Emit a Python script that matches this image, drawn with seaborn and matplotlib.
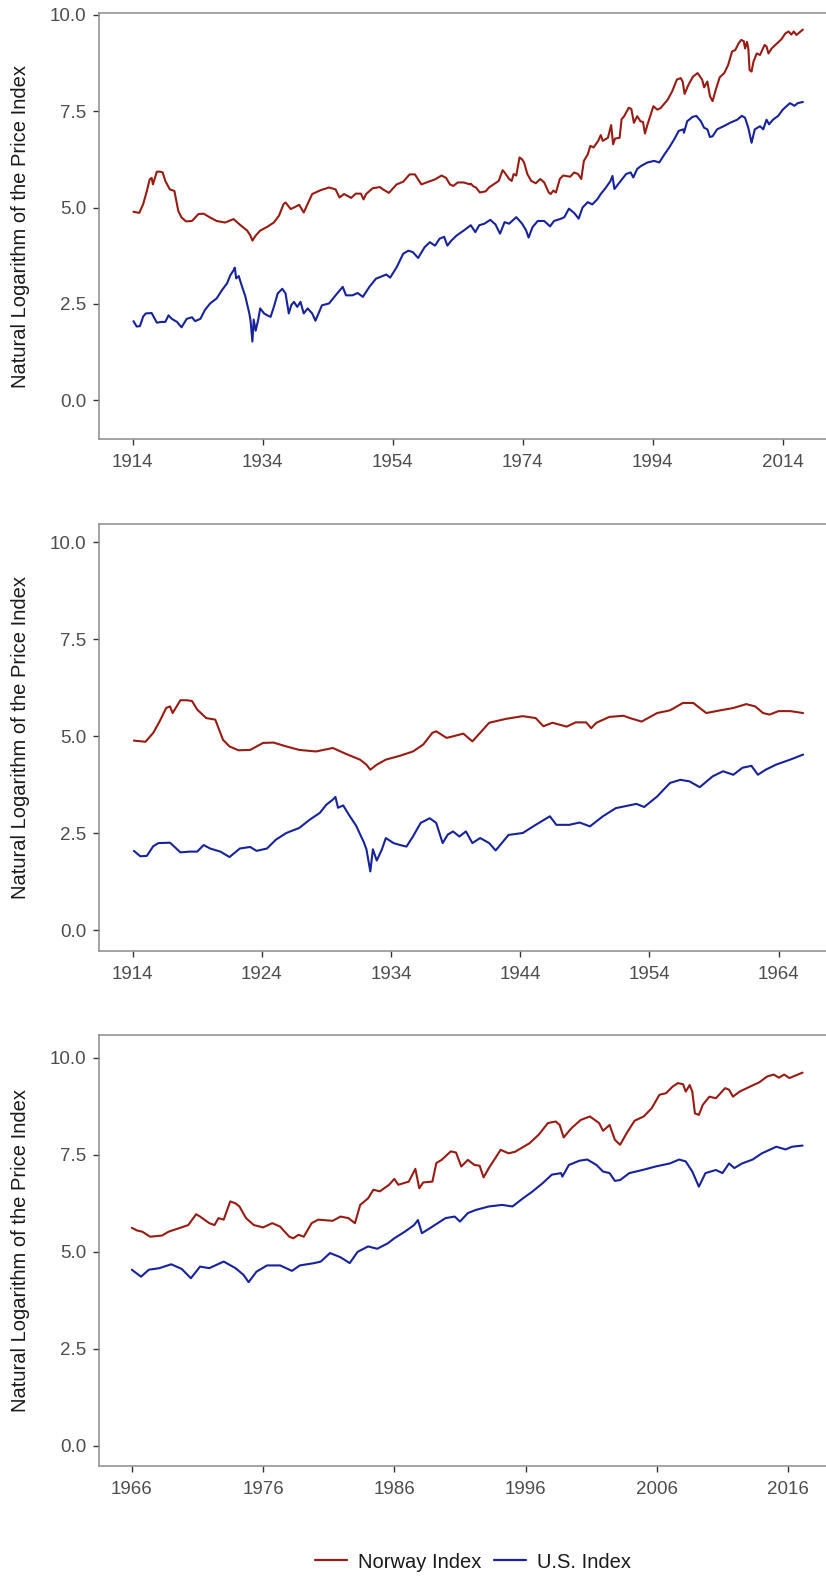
import numpy as np
import pandas as pd
import matplotlib
matplotlib.use('Agg')
import matplotlib.pyplot as plt
import seaborn as sns
from matplotlib.lines import Line2D

# values (log of price index)
nor_year = [1914.1, 1915.0, 1915.6, 1916.1, 1916.6, 1916.9, 1917.1, 1917.7, 1918.2, 1918.6,
            1919.0, 1919.7, 1920.4, 1921.0, 1921.5, 1922.2, 1923.1, 1924.1, 1924.9, 1925.9,
            1926.9, 1928.2, 1929.5, 1930.5, 1931.6, 1932.1, 1932.4, 1932.9, 1933.6, 1934.7,
            1935.7, 1936.5, 1937.2, 1937.5, 1938.3, 1938.8, 1939.6, 1940.3, 1940.9, 1941.6,
            1942.9, 1944.2, 1945.2, 1945.8, 1946.5, 1947.6, 1948.3, 1949.1, 1949.5, 1949.9,
            1950.9, 1952.0, 1952.5, 1953.4, 1954.6, 1955.6, 1956.6, 1957.4, 1958.4, 1959.5,
            1960.5, 1961.5, 1962.2, 1962.8, 1963.3, 1964.0, 1964.9, 1965.9,
            1966.0, 1966.4, 1966.8, 1967.4, 1968.3, 1968.8, 1969.6, 1970.3, 1970.9, 1971.2, 1971.9,
            1972.3, 1972.6, 1973.0, 1973.5, 1973.9, 1974.2, 1974.7, 1975.3, 1976.0, 1976.7,
            1977.3, 1978.0, 1978.3, 1978.7, 1979.1, 1979.7, 1980.2, 1981.3, 1981.9, 1982.5,
            1983.0, 1983.4, 1984.0, 1984.4, 1984.9, 1985.6, 1986.0, 1986.3, 1987.1, 1987.6,
            1987.9, 1988.2, 1988.9, 1989.2, 1989.6, 1990.3, 1990.7, 1991.1, 1991.6, 1992.1,
            1992.5, 1992.8, 1993.2, 1994.1, 1994.7, 1995.2, 1996.3, 1997.0, 1997.7, 1998.3,
            1998.6, 1998.9, 1999.5, 2000.2, 2000.9, 2001.6, 2001.9, 2002.4, 2002.8, 2003.2,
            2003.7, 2004.3, 2005.0, 2005.6, 2006.2, 2006.7, 2007.2, 2007.6, 2008.0, 2008.2,
            2008.5, 2008.7, 2008.9, 2009.2, 2009.5, 2010.0, 2010.5, 2011.2, 2011.5, 2011.8,
            2012.3, 2013.1, 2013.8, 2014.4, 2014.9, 2015.3, 2015.7, 2016.1, 2016.6, 2017.1]
nor_val = [4.89, 4.86, 5.09, 5.39, 5.73, 5.77, 5.60, 5.93, 5.93, 5.91,
           5.69, 5.47, 5.43, 4.91, 4.74, 4.64, 4.65, 4.83, 4.84, 4.74,
           4.65, 4.61, 4.70, 4.55, 4.40, 4.27, 4.14, 4.27, 4.40, 4.50,
           4.61, 4.79, 5.09, 5.13, 4.96, 5.00, 5.07, 4.87, 5.09, 5.35,
           5.45, 5.52, 5.47, 5.26, 5.35, 5.25, 5.36, 5.36, 5.21, 5.35,
           5.50, 5.53, 5.47, 5.38, 5.60, 5.67, 5.86, 5.86, 5.60, 5.67,
           5.73, 5.83, 5.77, 5.60, 5.56, 5.65, 5.65, 5.60,
           5.62, 5.55, 5.52, 5.39, 5.42, 5.52, 5.61, 5.69, 5.97, 5.91, 5.74,
           5.69, 5.87, 5.83, 6.30, 6.25, 6.17, 5.87, 5.69, 5.63, 5.74,
           5.65, 5.39, 5.35, 5.44, 5.39, 5.74, 5.83, 5.80, 5.91, 5.87,
           5.74, 6.21, 6.38, 6.60, 6.56, 6.73, 6.88, 6.73, 6.81, 7.14,
           6.64, 6.79, 6.81, 7.29, 7.37, 7.59, 7.56, 7.20, 7.37, 7.24,
           7.22, 6.92, 7.16, 7.63, 7.54, 7.58, 7.80, 8.02, 8.32, 8.36,
           8.27, 7.95, 8.19, 8.40, 8.49, 8.32, 8.12, 8.27, 7.89, 7.76,
           8.06, 8.38, 8.49, 8.70, 9.05, 9.09, 9.26, 9.35, 9.32, 9.13,
           9.30, 9.13, 8.57, 8.53, 8.79, 9.00, 8.96, 9.22, 9.18, 9.00,
           9.13, 9.26, 9.37, 9.52, 9.57, 9.49, 9.57, 9.48, 9.55, 9.62]

us_year = [1914.1, 1914.6, 1915.1, 1915.6, 1916.0, 1916.9, 1917.7, 1918.4, 1919.0, 1919.5,
           1920.0, 1920.8, 1921.5, 1922.3, 1923.1, 1923.6, 1924.4, 1925.1, 1925.9, 1926.9,
           1927.7, 1928.5, 1929.0, 1929.5, 1929.7, 1929.9, 1930.3, 1930.8, 1931.3, 1931.9,
           1932.1, 1932.4, 1932.6, 1932.9, 1933.3, 1933.6, 1934.2, 1934.7, 1935.2, 1935.7,
           1936.3, 1937.0, 1937.5, 1938.0, 1938.4, 1938.8, 1939.3, 1939.8, 1940.3, 1940.9,
           1941.6, 1942.1, 1943.1, 1944.2, 1945.2, 1946.3, 1946.8, 1947.8, 1948.6, 1949.4,
           1950.4, 1951.4, 1953.0, 1953.6, 1954.6, 1955.6, 1956.4, 1957.1, 1957.9, 1958.9,
           1959.7, 1960.5, 1961.2, 1961.9, 1962.4, 1963.0, 1963.8, 1964.9, 1965.9,
           1966.0, 1966.7, 1967.3, 1968.1, 1969.0, 1969.8, 1970.5, 1971.2, 1971.9, 1973.0, 1973.9,
           1974.5, 1974.9, 1975.5, 1976.3, 1977.3, 1978.2, 1978.8, 1979.9, 1980.4, 1981.1,
           1981.9, 1982.6, 1983.2, 1984.0, 1984.7, 1985.5, 1986.0, 1986.8, 1987.5, 1987.8,
           1988.1, 1988.8, 1989.9, 1990.6, 1991.0, 1991.6, 1992.2, 1993.2, 1994.2, 1995.0,
           1995.8, 1996.5, 1997.3, 1998.0, 1998.7, 1998.8, 1999.3, 2000.1, 2000.7, 2001.4,
           2001.9, 2002.4, 2002.8, 2003.2, 2003.9, 2004.9, 2005.9, 2007.0, 2007.7, 2008.2,
           2008.7, 2009.2, 2009.7, 2010.5, 2011.0, 2011.5, 2011.9, 2012.5, 2013.3, 2014.0,
           2015.1, 2015.8, 2016.3, 2017.1]
us_val = [2.05, 1.91, 1.92, 2.17, 2.25, 2.26, 2.01, 2.03, 2.03, 2.20,
          2.11, 2.03, 1.89, 2.11, 2.15, 2.05, 2.11, 2.34, 2.51, 2.64,
          2.85, 3.03, 3.24, 3.37, 3.44, 3.16, 3.22, 2.95, 2.70, 2.27,
          2.09, 1.52, 2.09, 1.80, 2.09, 2.38, 2.25, 2.20, 2.16, 2.42,
          2.77, 2.89, 2.77, 2.25, 2.47, 2.55, 2.42, 2.55, 2.25, 2.38,
          2.25, 2.06, 2.46, 2.51, 2.72, 2.94, 2.72, 2.72, 2.78, 2.68,
          2.94, 3.15, 3.26, 3.18, 3.45, 3.80, 3.88, 3.84, 3.69, 3.97,
          4.10, 4.01, 4.19, 4.24, 4.01, 4.14, 4.27, 4.40, 4.53,
          4.54, 4.36, 4.54, 4.58, 4.68, 4.56, 4.32, 4.62, 4.58, 4.75, 4.58,
          4.41, 4.22, 4.49, 4.65, 4.65, 4.51, 4.65, 4.71, 4.75, 4.97,
          4.86, 4.71, 5.00, 5.14, 5.08, 5.22, 5.35, 5.52, 5.69, 5.82,
          5.48, 5.63, 5.87, 5.91, 5.78, 6.00, 6.08, 6.17, 6.21, 6.17,
          6.38, 6.55, 6.77, 6.99, 7.03, 6.94, 7.24, 7.35, 7.38, 7.24,
          7.07, 7.03, 6.83, 6.85, 7.03, 7.11, 7.20, 7.28, 7.38, 7.33,
          7.07, 6.68, 7.03, 7.11, 7.03, 7.28, 7.16, 7.28, 7.38, 7.54,
          7.71, 7.64, 7.71, 7.74]

series_names = ['Norway Index', 'U.S. Index']
colors = {'Norway Index': '#971c12', 'U.S. Index': '#16239a'}

df = pd.concat([
    pd.DataFrame({'Year': nor_year, 'Value': nor_val, 'Index': 'Norway Index'}),
    pd.DataFrame({'Year': us_year, 'Value': us_val, 'Index': 'U.S. Index'}),
])

sns.set_style('ticks')
plt.rcParams['font.family'] = ['Liberation Sans', 'DejaVu Sans']

W, H = 826, 1595
fig = plt.figure(figsize=(W / 100, H / 100), dpi=100)

# top px, bottom px, x limits, x ticks, y limits, years shown
panels = [
    (13, 439, (1908.8, 2022.5), range(1914, 2015, 20), (-1.01, 10.05), (1900, 2100)),
    (524, 951, (1911.4, 1968.6), range(1914, 1965, 10), (-0.53, 10.47), (1900, 1965.95)),
    (1035, 1466, (1963.5, 2019.8), range(1966, 2017, 10), (-0.52, 10.59), (1965.95, 2100)),
]

spine_col = '#8c8c8c'
for top, bot, xl, xt, yl, span in panels:
    ax = fig.add_axes([99 / W, 1 - bot / H, (838 - 99) / W, (bot - top) / H])
    sub = df[(df['Year'] >= span[0]) & (df['Year'] <= span[1])]
    sns.lineplot(data=sub, x='Year', y='Value', hue='Index', palette=colors,
                 hue_order=series_names, linewidth=1.5, ax=ax, legend=False,
                 estimator=None, sort=True)
    ax.set_xlim(*xl)
    ax.set_ylim(*yl)
    ax.set_xticks(list(xt))
    ax.set_yticks([0, 2.5, 5, 7.5, 10])
    ax.set_yticklabels(['0.0', '2.5', '5.0', '7.5', '10.0'])
    ax.set_xlabel('')
    ax.set_ylabel('Natural Logarithm of the Price Index', fontsize=14.5, color='#1a1a1a')
    ax.yaxis.set_label_coords(-0.094, 0.5)
    for s in ax.spines.values():
        s.set_visible(True)
        s.set_color(spine_col)
        s.set_linewidth(1.1)
    ax.tick_params(axis='both', labelsize=13.5, labelcolor='#4d4d4d', color='#333333',
                   length=4.5, width=1.0)
    ax.tick_params(axis='x', pad=6)
    ax.tick_params(axis='y', pad=4.5)

handles = [Line2D([], [], color=colors[n], linewidth=1.6) for n in series_names]
fig.legend(handles, series_names, loc='center', bbox_to_anchor=(473 / W, 1 - 1562 / H),
           ncol=2, frameon=False, fontsize=14.5, handlelength=1.6, handletextpad=0.55,
           columnspacing=0.6, labelcolor='#1a1a1a')

fig.savefig('out.png', dpi=100)
